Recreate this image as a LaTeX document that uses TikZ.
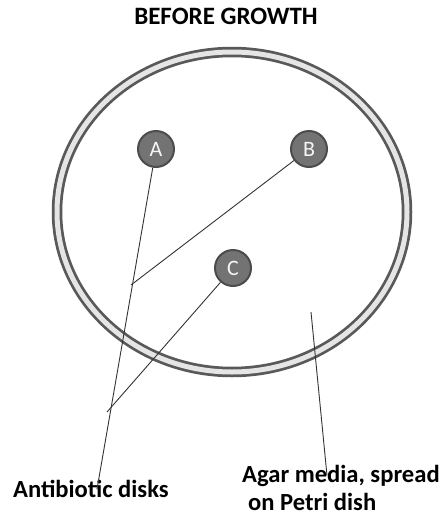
\documentclass[tikz,border=0pt]{standalone}
\usepackage{fontspec}
\setmainfont{Carlito}
\usetikzlibrary{positioning}

\begin{document}
\begin{tikzpicture}[x=1pt, y=-1pt,
    disk/.style={circle, draw=black!70, line width=2pt, fill=black!55,
        text=black!4, minimum size=36pt, inner sep=0pt,
        font=\fontsize{22}{22}\selectfont},
    pointer/.style={draw=black!80, line width=0.9pt},
    notetext/.style={font=\bfseries\fontsize{24.6}{28}\selectfont, inner sep=0pt}]

    % page size in pixels
    \useasboundingbox (0,0) rectangle (442,517);

    % title
    \node[font=\bfseries\fontsize{25}{25}\selectfont, inner sep=0pt, anchor=base]
        (title) at (226,24) {BEFORE GROWTH};

    % petri dish: dark rim with a light band inside
    \draw[black!65, line width=10.5pt] (232,212) ellipse [x radius=175pt, y radius=160pt];
    \draw[black!10, line width=5pt] (232,212) ellipse [x radius=175pt, y radius=160pt];

    % antibiotic disks
    \node[disk] (A) at (156,149) {A};
    \node[disk] (B) at (309,149) {B};
    \node[disk] (C) at (233,268) {C};

    % labels
    \node[notetext, anchor=base west] (disks) at (13,497) {Antibiotic disks};
    \node[notetext, anchor=north west, align=left] (agar) at (242,465)
        {Agar media, spread\\ \hspace{6pt}on Petri dish};

    % free ends of the pointers
    \coordinate (fork) at (107,412);
    \coordinate (bfree) at (131,285);
    \coordinate (agarpt) at (311,312);

    % pointers
    \draw[pointer] (A) -- ([xshift=6pt,yshift=-10pt]disks.north);
    \draw[pointer] (C) -- (fork);
    \draw[pointer] (B) -- (bfree);
    \draw[pointer] (agarpt) -- ([xshift=-14pt,yshift=-10pt]agar.north);

\end{tikzpicture}
\end{document}
